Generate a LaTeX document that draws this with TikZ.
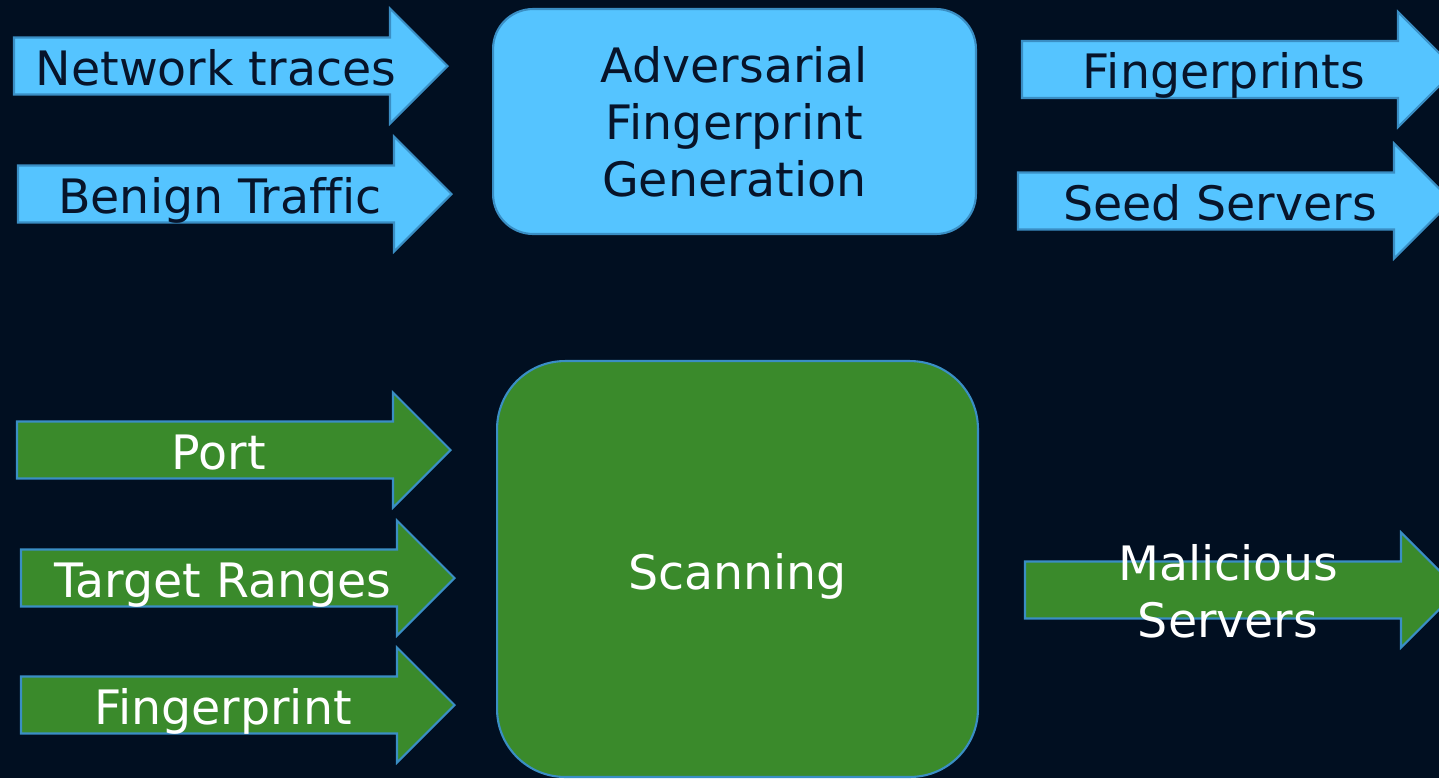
\documentclass[tikz,border=0pt]{standalone}
\usepackage{fontspec}
\setmainfont{DejaVu Sans}[Ligatures=NoCommon]
\definecolor{bgnavy}{HTML}{010F21}
\definecolor{skyfill}{HTML}{55C4FF}
\definecolor{skyline}{HTML}{3A8EC4}
\definecolor{grassfill}{HTML}{3A8A2B}
\definecolor{inktext}{HTML}{07142A}

% block arrow: #1 style, #2 name, #3 left x, #4 middle y, #5 text
\newcommand{\flowarrow}[5]{%
  \draw[#1] (#3,#4-28.5) -- ++(376,0) -- ++(0,-29) -- ++(57.5,57.5)
    -- ++(-57.5,57.5) -- ++(0,-29) -- ++(-376,0) -- cycle;
  \node[#1, draw=none, fill=none, anchor=base, inner sep=0pt] (#2) at (#3+202,#4+19) {#5};
}

\begin{document}
\begin{tikzpicture}[
  x=0.02cm, y=-0.02cm,
  every node/.style={font=\fontsize{27}{32.4}\selectfont},
  skyarrow/.style={draw=skyline, fill=skyfill, line width=1.2pt, text=inktext},
  grassarrow/.style={draw=skyline, fill=grassfill, line width=1.2pt, text=white},
  stage/.style={draw=skyline, line width=1.2pt, align=center, inner sep=0pt}
]
\fill[bgnavy] (0,0) rectangle (1439,778);
\useasboundingbox (0,0) rectangle (1439,778);

% --- generation stage ---
\node[stage, fill=skyfill, text=inktext, rounded corners=0.8cm,
  minimum width=9.66cm, minimum height=4.5cm] (advgen) at (734.5,121.5)
  {Adversarial\\ Fingerprint\\ Generation};

\flowarrow{skyarrow}{traces}{14}{66}{Network traces}
\flowarrow{skyarrow}{benign}{18}{194}{Benign Traffic}
\flowarrow{skyarrow}{fprints}{1022}{69.5}{Fingerprints}
\flowarrow{skyarrow}{seeds}{1018}{201}{Seed Servers}

% --- scanning stage ---
\node[stage, fill=grassfill, text=white, rounded corners=1.36cm,
  minimum width=9.62cm, minimum height=8.32cm, text height=0.8cm, text depth=0pt]
  (scan) at (737.5,569) {Scanning};

\flowarrow{grassarrow}{port}{17}{450}{Port}
\flowarrow{grassarrow}{ranges}{21}{578}{Target Ranges}
\flowarrow{grassarrow}{fprint}{21}{705}{Fingerprint}

\draw[grassarrow] (1025,561.5) -- ++(376,0) -- ++(0,-29) -- ++(57.5,57.5)
  -- ++(-57.5,57.5) -- ++(0,-29) -- ++(-376,0) -- cycle;
\node[text=white, align=center, inner sep=0pt] (malicious) at (1228,591)
  {Malicious\\ Servers};

\end{tikzpicture}
\end{document}
